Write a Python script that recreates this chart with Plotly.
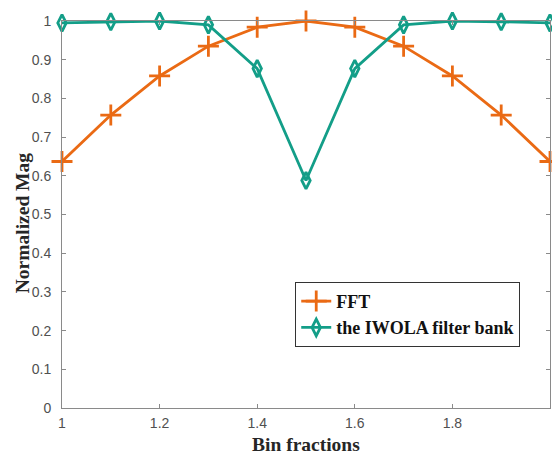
import plotly.graph_objects as go

x_vals = [1.0, 1.1, 1.2, 1.3, 1.4, 1.5, 1.6, 1.7, 1.8, 1.9, 2.0]
fft_vals = [0.637, 0.757, 0.858, 0.935, 0.984, 1.0, 0.984, 0.935, 0.858, 0.757, 0.637]
iwola_vals = [0.995, 0.998, 1.0, 0.99, 0.877, 0.588, 0.877, 0.99, 1.0, 0.998, 0.995]
x_ticks = [1, 1.2, 1.4, 1.6, 1.8, 2]
x_ticktext = ["1", "1.2", "1.4", "1.6", "1.8", "2"]
y_ticks = [0, 0.1, 0.2, 0.3, 0.4, 0.5, 0.6, 0.7, 0.8, 0.9, 1]
y_ticktext = ["0", "0.1", "0.2", "0.3", "0.4", "0.5", "0.6", "0.7", "0.8", "0.9", "1"]

orange = "#EA6A14"
teal = "#139E88"

fig = go.Figure()
fig.add_trace(go.Scatter(
    x=x_vals, y=fft_vals, name="FFT", mode="lines+markers",
    line=dict(color=orange, width=2.8),
    marker=dict(symbol="cross-thin-open", size=15, line=dict(color=orange, width=2.8)),
    cliponaxis=False,
))
fig.add_trace(go.Scatter(
    x=x_vals, y=iwola_vals, name="the IWOLA filter bank", mode="lines+markers",
    line=dict(color=teal, width=2.8),
    marker=dict(symbol="diamond-tall-open", size=12, line=dict(color=teal, width=2.8)),
    cliponaxis=False,
))

axis_common = dict(
    showline=True, linecolor="#8a8a8a", linewidth=1, mirror="ticks",
    ticks="inside", ticklen=4, tickcolor="#8a8a8a",
    showgrid=False, zeroline=False, automargin=False,
    tickfont=dict(family="Liberation Sans, Arial", size=14, color="#505050"),
)

title_font = dict(family="Liberation Serif, Times New Roman", size=19.5, color="#262626", weight="bold")

fig.update_layout(
    width=552, height=454,
    margin=dict(l=62, r=2, t=21, b=46),
    paper_bgcolor="white", plot_bgcolor="white",
    xaxis=dict(range=[1, 2], tickvals=x_ticks, ticktext=x_ticktext,
               ticklabelstandoff=2, **axis_common),
    yaxis=dict(range=[0, 1], tickvals=y_ticks, ticktext=y_ticktext,
               ticklabelstandoff=7, **axis_common),
    legend=dict(
        x=0.939, y=0.326, xanchor="right", yanchor="top",
        bordercolor="#333333", borderwidth=1, bgcolor="white",
        font=dict(family="Liberation Serif, Times New Roman", size=18, color="#111111", weight="bold"),
        tracegroupgap=0, itemwidth=30,
    ),
    showlegend=True,
    annotations=[
        dict(text="Bin fractions", xref="paper", yref="paper", x=0.5, y=-0.094,
             xanchor="center", yanchor="middle", showarrow=False, font=title_font),
        dict(text="Normalized Mag", xref="paper", yref="paper", x=-0.082, y=0.48,
             xanchor="center", yanchor="middle", textangle=-90, showarrow=False, font=title_font),
    ],
)

fig.write_html(
    "out.html",
    config={"displayModeBar": False},
    post_script="document.body.style.margin='0';document.body.style.overflow='hidden';",
)
